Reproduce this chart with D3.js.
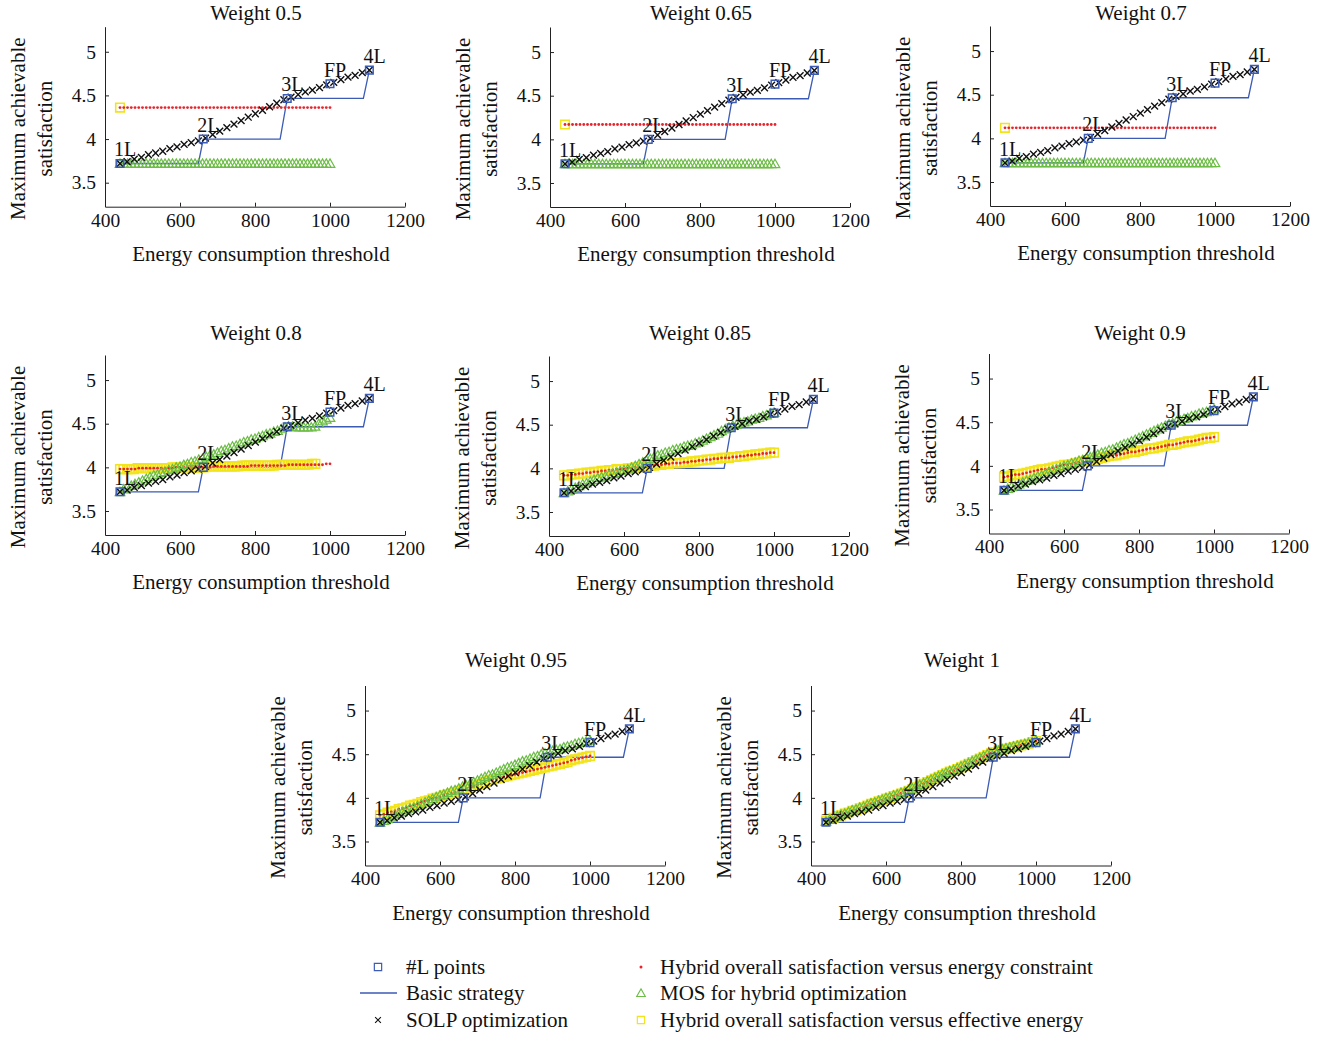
<!DOCTYPE html>
<html>
<head>
<meta charset="utf-8">
<script src="https://cdn.jsdelivr.net/npm/d3@7"></script>
<style>
  body { margin: 0; background: #fff; }
  svg { display: block; font-family: 'Liberation Serif', 'DejaVu Serif', serif; }
  .axis path, .axis line { stroke: #222; stroke-width: 1; }
  .axis text { font-size: 19.5px; fill: #111; font-family: 'Liberation Serif', serif; }
  .lbl { font-size: 21px; fill: #111; }
</style>
</head>
<body>
<svg id="chart" width="1328" height="1037"></svg>
<script>
// ---- data ----
const weights = ['0.5', '0.65', '0.7', '0.8', '0.85', '0.9', '0.95', '1']
const xTicks = [400, 600, 800, 1000, 1200]
const yTicks = [3.5, 4, 4.5, 5]

// #L points and basic strategy (same in every panel)
const lNames = ['1L', '2L', '3L', 'FP', '4L']
const lEnergy = [440, 662, 886, 1000, 1105]
const lValues = [3.72, 4.0, 4.465, 4.633, 4.79]
const basicEnergy = [440, 649, 662, 867, 886, 1089, 1105]
const basicValues = [3.72, 3.72, 4.0, 4.0, 4.465, 4.465, 4.79]

// SOLP optimization
const solpEnergy = [440, 459, 478, 497, 516, 535, 554, 573, 592, 611, 630, 649, 668, 687, 706, 725, 744, 763,
  782, 801, 820, 839, 858, 877, 896, 915, 934, 953, 972, 991, 1010, 1029, 1048, 1067, 1086, 1105]
const solpValues = [3.72, 3.74, 3.77, 3.79, 3.82, 3.84, 3.86, 3.89, 3.91, 3.94, 3.96, 3.98, 4.01, 4.05, 4.09, 4.13, 4.17, 4.21,
  4.25, 4.29, 4.33, 4.37, 4.41, 4.45, 4.48, 4.51, 4.54, 4.56, 4.59, 4.62, 4.65, 4.68, 4.71, 4.73, 4.76, 4.79]

// energy constraints used by the hybrid runs
const energy = [440, 450, 460, 470, 480, 490, 500, 510, 520, 530,
  540, 550, 560, 570, 580, 590, 600, 610, 620, 630,
  640, 650, 660, 670, 680, 690, 700, 710, 720, 730,
  740, 750, 760, 770, 780, 790, 800, 810, 820, 830,
  840, 850, 860, 870, 880, 890, 900, 910, 920, 930,
  940, 950, 960, 970, 980, 990, 1000]

// hybrid overall satisfaction versus energy constraint
const red05 = [4.36, 4.36, 4.36, 4.36, 4.36, 4.36, 4.36, 4.36, 4.36, 4.36, 4.36, 4.36, 4.36, 4.36, 4.36, 4.36, 4.36, 4.36, 4.36,
  4.36, 4.36, 4.36, 4.36, 4.36, 4.36, 4.36, 4.36, 4.36, 4.36, 4.36, 4.36, 4.36, 4.36, 4.36, 4.36, 4.36, 4.36, 4.36,
  4.36, 4.36, 4.36, 4.36, 4.36, 4.36, 4.36, 4.36, 4.36, 4.36, 4.36, 4.36, 4.36, 4.36, 4.36, 4.36, 4.36, 4.36, 4.36]
const red065 = [4.17, 4.17, 4.17, 4.17, 4.17, 4.17, 4.17, 4.17, 4.17, 4.17, 4.17, 4.17, 4.17, 4.17, 4.17, 4.17, 4.17, 4.17, 4.17,
  4.17, 4.17, 4.17, 4.17, 4.17, 4.17, 4.17, 4.17, 4.17, 4.17, 4.17, 4.17, 4.17, 4.17, 4.17, 4.17, 4.17, 4.17, 4.17,
  4.17, 4.17, 4.17, 4.17, 4.17, 4.17, 4.17, 4.17, 4.17, 4.17, 4.17, 4.17, 4.17, 4.17, 4.17, 4.17, 4.17, 4.17, 4.17]
const red07 = [4.12, 4.12, 4.12, 4.12, 4.12, 4.12, 4.12, 4.12, 4.12, 4.12, 4.12, 4.12, 4.12, 4.12, 4.12, 4.12, 4.12, 4.12, 4.12,
  4.12, 4.12, 4.12, 4.12, 4.12, 4.12, 4.12, 4.12, 4.12, 4.12, 4.12, 4.12, 4.12, 4.12, 4.12, 4.12, 4.12, 4.12, 4.12,
  4.12, 4.12, 4.12, 4.12, 4.12, 4.12, 4.12, 4.12, 4.12, 4.12, 4.12, 4.12, 4.12, 4.12, 4.12, 4.12, 4.12, 4.12, 4.12]
const red08 = [3.98, 3.98, 3.98, 3.98, 3.98, 3.99, 3.99, 3.99, 3.99, 3.99, 3.99, 3.99, 3.99, 3.99, 3.99, 4.00, 4.00, 4.00, 4.00, 4.00,
  4.00, 4.00, 4.00, 4.00, 4.00, 4.01, 4.01, 4.01, 4.01, 4.01, 4.01, 4.01, 4.01, 4.01, 4.01, 4.02, 4.02, 4.02, 4.02, 4.02,
  4.02, 4.02, 4.02, 4.02, 4.02, 4.03, 4.03, 4.03, 4.03, 4.03, 4.03, 4.03, 4.03, 4.03, 4.03, 4.04, 4.04]
const red085 = [3.92, 3.92, 3.93, 3.93, 3.94, 3.94, 3.95, 3.95, 3.96, 3.96, 3.97, 3.97, 3.98, 3.98, 3.99, 3.99, 3.99, 4.00, 4.00, 4.01,
  4.01, 4.02, 4.02, 4.03, 4.03, 4.04, 4.04, 4.05, 4.05, 4.06, 4.06, 4.06, 4.07, 4.07, 4.08, 4.08, 4.09, 4.09, 4.10, 4.10,
  4.11, 4.11, 4.12, 4.12, 4.12, 4.13, 4.13, 4.14, 4.14, 4.15, 4.15, 4.16, 4.16, 4.17, 4.17, 4.18, 4.18]
const red09 = [3.87, 3.88, 3.89, 3.90, 3.90, 3.91, 3.92, 3.93, 3.94, 3.95, 3.96, 3.96, 3.97, 3.98, 3.99, 4.00, 4.01, 4.01, 4.02, 4.03,
  4.04, 4.05, 4.06, 4.07, 4.07, 4.08, 4.09, 4.10, 4.11, 4.12, 4.12, 4.13, 4.14, 4.15, 4.16, 4.16, 4.17, 4.18, 4.19, 4.20,
  4.20, 4.21, 4.22, 4.23, 4.24, 4.24, 4.25, 4.26, 4.27, 4.28, 4.28, 4.29, 4.30, 4.31, 4.32, 4.32, 4.33]
const red095 = [3.80, 3.81, 3.83, 3.84, 3.85, 3.87, 3.88, 3.89, 3.91, 3.92, 3.93, 3.95, 3.96, 3.97, 3.99, 4.00, 4.01, 4.03, 4.04, 4.05,
  4.06, 4.08, 4.09, 4.10, 4.12, 4.13, 4.15, 4.16, 4.18, 4.20, 4.21, 4.22, 4.23, 4.24, 4.25, 4.26, 4.27, 4.28, 4.29, 4.30,
  4.31, 4.32, 4.33, 4.34, 4.35, 4.36, 4.37, 4.38, 4.39, 4.40, 4.41, 4.43, 4.44, 4.45, 4.46, 4.47, 4.48]
const red1 = [3.74, 3.76, 3.77, 3.79, 3.80, 3.82, 3.83, 3.85, 3.86, 3.88, 3.89, 3.91, 3.93, 3.94, 3.96, 3.97, 3.99, 4.00, 4.02, 4.03,
  4.05, 4.06, 4.08, 4.10, 4.12, 4.14, 4.16, 4.18, 4.20, 4.22, 4.24, 4.26, 4.28, 4.30, 4.31, 4.33, 4.35, 4.37, 4.39, 4.41,
  4.43, 4.45, 4.47, 4.49, 4.51, 4.52, 4.54, 4.55, 4.56, 4.57, 4.58, 4.59, 4.60, 4.61, 4.62, 4.64, 4.65]

// MOS for hybrid optimization
const mosFlat = [3.72, 3.72, 3.72, 3.72, 3.72, 3.72, 3.72, 3.72, 3.72, 3.72, 3.72, 3.72, 3.72, 3.72, 3.72, 3.72, 3.72, 3.72, 3.72,
  3.72, 3.72, 3.72, 3.72, 3.72, 3.72, 3.72, 3.72, 3.72, 3.72, 3.72, 3.72, 3.72, 3.72, 3.72, 3.72, 3.72, 3.72, 3.72,
  3.72, 3.72, 3.72, 3.72, 3.72, 3.72, 3.72, 3.72, 3.72, 3.72, 3.72, 3.72, 3.72, 3.72, 3.72, 3.72, 3.72, 3.72, 3.72]
const mos08 = [3.72, 3.75, 3.77, 3.79, 3.81, 3.83, 3.85, 3.87, 3.89, 3.91, 3.92, 3.94, 3.95, 3.97, 3.98, 4.00, 4.01, 4.03, 4.04, 4.06,
  4.07, 4.09, 4.10, 4.12, 4.14, 4.15, 4.17, 4.19, 4.20, 4.22, 4.24, 4.25, 4.27, 4.29, 4.30, 4.32, 4.33, 4.35, 4.36, 4.38,
  4.39, 4.41, 4.42, 4.44, 4.46, 4.47, 4.47, 4.46, 4.46, 4.46, 4.46, 4.46, 4.47, 4.50, 4.53, 4.55, 4.57]
const mos085 = [3.72, 3.74, 3.76, 3.78, 3.80, 3.82, 3.83, 3.85, 3.87, 3.89, 3.90, 3.91, 3.93, 3.94, 3.95, 3.97, 3.98, 3.99, 4.01, 4.03,
  4.05, 4.07, 4.09, 4.11, 4.13, 4.15, 4.16, 4.18, 4.19, 4.21, 4.22, 4.23, 4.25, 4.26, 4.27, 4.29, 4.30, 4.32, 4.34, 4.36,
  4.38, 4.40, 4.43, 4.45, 4.47, 4.49, 4.50, 4.52, 4.53, 4.54, 4.56, 4.57, 4.58, 4.60, 4.61, 4.63, 4.64]
const mos09 = [3.72, 3.74, 3.76, 3.77, 3.79, 3.81, 3.83, 3.84, 3.86, 3.88, 3.89, 3.91, 3.93, 3.95, 3.96, 3.98, 4.00, 4.01, 4.03, 4.04,
  4.06, 4.07, 4.09, 4.10, 4.12, 4.13, 4.15, 4.16, 4.18, 4.19, 4.21, 4.23, 4.25, 4.26, 4.28, 4.30, 4.32, 4.34, 4.36, 4.38,
  4.40, 4.42, 4.44, 4.46, 4.48, 4.49, 4.51, 4.52, 4.54, 4.55, 4.57, 4.58, 4.60, 4.61, 4.62, 4.64, 4.65]
const mos095 = [3.72, 3.74, 3.76, 3.78, 3.80, 3.82, 3.84, 3.86, 3.88, 3.89, 3.91, 3.93, 3.95, 3.97, 3.99, 4.01, 4.03, 4.04, 4.06, 4.08,
  4.09, 4.11, 4.13, 4.14, 4.16, 4.18, 4.20, 4.22, 4.24, 4.26, 4.27, 4.29, 4.31, 4.33, 4.35, 4.36, 4.38, 4.40, 4.42, 4.43,
  4.45, 4.47, 4.48, 4.50, 4.51, 4.52, 4.54, 4.55, 4.56, 4.58, 4.59, 4.60, 4.62, 4.63, 4.64, 4.65, 4.66]
const mos1 = [3.73, 3.75, 3.77, 3.79, 3.81, 3.82, 3.84, 3.86, 3.87, 3.89, 3.90, 3.92, 3.94, 3.95, 3.97, 3.98, 4.00, 4.01, 4.03, 4.04,
  4.06, 4.07, 4.09, 4.11, 4.13, 4.15, 4.17, 4.19, 4.21, 4.23, 4.25, 4.27, 4.29, 4.31, 4.32, 4.34, 4.36, 4.38, 4.40, 4.42,
  4.44, 4.46, 4.48, 4.50, 4.51, 4.53, 4.54, 4.56, 4.57, 4.58, 4.59, 4.60, 4.61, 4.62, 4.63, 4.64, 4.66]

// effective energy actually spent at weight 0.8
const eff08 = [440, 449, 459, 468, 477, 487, 496, 505, 514, 524, 533, 542, 552, 561, 570, 580, 589, 598, 608, 617,
  626, 636, 645, 654, 663, 673, 682, 691, 701, 710, 719, 729, 738, 747, 756, 766, 775, 784, 794, 803,
  812, 822, 831, 840, 850, 859, 868, 877, 887, 896, 905, 915, 924, 933, 943, 952, 961]

const redSeries = [red05, red065, red07, red08, red085, red09, red095, red1]
const mosSeries = [mosFlat, mosFlat, mosFlat, mos08, mos085, mos09, mos095, mos1]
// hybrid overall satisfaction versus effective energy
const effX = [[440], [440], [440], eff08, energy, energy, energy, energy]
const effY = [[4.36], [4.17], [4.12], red08, red085, red09, red095, red1]

// ---- layout ----
const panelLeft = [105, 550, 990, 105, 549, 989, 365, 811]
const panelTop = [26.7, 27, 26, 355, 356, 353.5, 685.5, 685.5]
const titleY = [20, 20, 20, 340, 340, 340, 667, 667]
const plotW = 300
const plotH = 180

const blue = '#3b5bb5'
const red = '#e8242c'
const green = '#6cbd45'
const yellow = '#f2e41a'

const crossPath = 'M-3.4,-3.4L3.4,3.4M-3.4,3.4L3.4,-3.4'
const triPath = 'M0,-4.6L4.8,3.8L-4.8,3.8Z'
const sqPath = 'M-4.3,-4.3H4.3V4.3H-4.3Z'
const lSqPath = 'M-3.8,-3.8H3.8V3.8H-3.8Z'

const svg = d3.select('#chart')

const x = d3.scaleLinear().domain([400, 1200]).range([0, plotW])
const y = d3.scaleLinear().domain([3.225, 5.287]).range([plotH, 0])

function markers (g, pts, path, stroke, width) {
  g.append('g').selectAll('path')
    .data(pts)
    .enter().append('path')
      .attr('d', path)
      .attr('transform', function (d) { return 'translate(' + x(d[0]) + ',' + y(d[1]) + ')' })
      .attr('fill', 'none')
      .attr('stroke', stroke)
      .attr('stroke-width', width)
}

weights.forEach(function (w, i) {
  const left = panelLeft[i]
  const top = panelTop[i]
  const g = svg.append('g').attr('transform', 'translate(' + left + ',' + top + ')')

  g.append('g')
    .attr('class', 'axis')
    .attr('transform', 'translate(0,' + plotH + ')')
    .call(d3.axisBottom(x).tickValues(xTicks).tickSizeInner(-4).tickSizeOuter(0).tickPadding(6)
      .tickFormat(d3.format('d')))

  g.append('g')
    .attr('class', 'axis')
    .call(d3.axisLeft(y).tickValues(yTicks).tickSizeInner(-4).tickSizeOuter(0).tickPadding(9)
      .tickFormat(function (d) { return String(d) }))

  g.selectAll('.axis text').attr('fill', '#111')

  // basic strategy
  g.append('path')
    .datum(d3.zip(basicEnergy, basicValues))
    .attr('d', d3.line().x(function (d) { return x(d[0]) }).y(function (d) { return y(d[1]) }))
    .attr('fill', 'none')
    .attr('stroke', blue)
    .attr('stroke-width', 1.3)

  markers(g, d3.zip(effX[i], effY[i]), sqPath, yellow, 1.6)

  g.append('g').selectAll('circle')
    .data(d3.zip(energy, redSeries[i]))
    .enter().append('circle')
      .attr('cx', function (d) { return x(d[0]) })
      .attr('cy', function (d) { return y(d[1]) })
      .attr('r', 1.4)
      .attr('fill', red)

  markers(g, d3.zip(energy, mosSeries[i]), triPath, green, 1.2)
  markers(g, d3.zip(solpEnergy, solpValues), crossPath, '#111', 1.4)
  markers(g, d3.zip(lEnergy, lValues), lSqPath, blue, 1.5)

  g.append('g').selectAll('text')
    .data(d3.zip(lEnergy, lValues, lNames))
    .enter().append('text')
      .attr('x', function (d) { return x(d[0]) - 6 })
      .attr('y', function (d) { return y(d[1]) - 7 })
      .attr('font-size', 20)
      .attr('fill', '#111')
      .text(function (d) { return d[2] })

  svg.append('text')
    .attr('class', 'lbl')
    .attr('x', left + 151)
    .attr('y', titleY[i])
    .attr('text-anchor', 'middle')
    .text('Weight ' + w)

  svg.append('text')
    .attr('class', 'lbl')
    .attr('x', left + 156)
    .attr('y', top + plotH + 54)
    .attr('text-anchor', 'middle')
    .text('Energy consumption threshold')

  const cy = top + plotH / 2 + 12
  svg.append('text')
    .attr('class', 'lbl')
    .attr('transform', 'translate(' + (left - 80) + ',' + cy + ') rotate(-90)')
    .attr('text-anchor', 'middle')
    .text('Maximum achievable')
  svg.append('text')
    .attr('class', 'lbl')
    .attr('transform', 'translate(' + (left - 53) + ',' + cy + ') rotate(-90)')
    .attr('text-anchor', 'middle')
    .text('satisfaction')
})

// ---- legend ----
const legendRows = [967, 993, 1020]
const leg = svg.append('g')

leg.append('path').attr('d', sqPath).attr('transform', 'translate(378,' + legendRows[0] + ') scale(0.85)')
  .attr('fill', 'none').attr('stroke', blue).attr('stroke-width', 1.4)
leg.append('line').attr('x1', 360).attr('x2', 397).attr('y1', legendRows[1]).attr('y2', legendRows[1])
  .attr('stroke', blue).attr('stroke-width', 1.3)
leg.append('path').attr('d', crossPath).attr('transform', 'translate(378,' + legendRows[2] + ') scale(0.85)')
  .attr('fill', 'none').attr('stroke', '#111').attr('stroke-width', 1.3)
leg.append('circle').attr('cx', 641).attr('cy', legendRows[0]).attr('r', 1.5).attr('fill', red)
leg.append('path').attr('d', triPath).attr('transform', 'translate(641,' + legendRows[1] + ') scale(0.9)')
  .attr('fill', 'none').attr('stroke', green).attr('stroke-width', 1.2)
leg.append('path').attr('d', sqPath).attr('transform', 'translate(641,' + legendRows[2] + ') scale(0.85)')
  .attr('fill', 'none').attr('stroke', yellow).attr('stroke-width', 1.4)

const legendText = [
  [406, '#L points'], [406, 'Basic strategy'], [406, 'SOLP optimization'],
  [660, 'Hybrid overall satisfaction versus energy constraint'],
  [660, 'MOS for hybrid optimization'],
  [660, 'Hybrid overall satisfaction versus effective energy']
]
leg.selectAll('text')
  .data(legendText)
  .enter().append('text')
    .attr('class', 'lbl')
    .attr('x', function (d) { return d[0] })
    .attr('y', function (d, k) { return legendRows[k % 3] + 7 })
    .text(function (d) { return d[1] })
</script>
</body>
</html>
